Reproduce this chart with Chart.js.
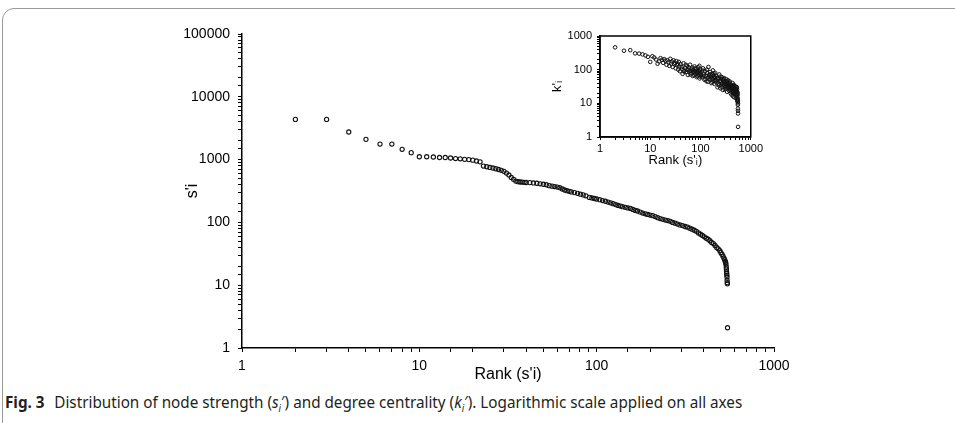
<!DOCTYPE html>
<html>
<head>
<meta charset="utf-8">
<script src="https://cdn.jsdelivr.net/npm/chart.js@4/dist/chart.umd.min.js"></script>
<style>
  body { margin: 0; background: #fff; width: 955px; height: 423px; overflow: hidden; position: relative; }
  #frame { position: absolute; left: 2px; top: 8px; width: 1000px; height: 500px; border: 1px solid #9a9a9a; border-radius: 12px 0 0 0; }
  #main { position: absolute; left: 140px; top: 14px; }
  #inset { position: absolute; left: 540px; top: 24px; }
  #caption { position: absolute; left: 5px; top: 391px; font: 16px "Liberation Sans Narrow", "Noto Sans", sans-serif; color: #231f20; white-space: nowrap; transform-origin: 0 0; }
  #caption b { font-weight: bold; margin-right: 6px; }
</style>
</head>
<body>
<div id="frame"></div>
<canvas id="main" width="660" height="376"></canvas>
<canvas id="inset" width="225" height="145"></canvas>
<div id="caption"><b>Fig. 3</b> Distribution of node strength (<i>s<sub style="font-size:10px">i</sub></i>′) and degree centrality (<i>k<sub style="font-size:10px">i</sub></i>′). Logarithmic scale applied on all axes</div>
<script>
// main plot: node strength by rank
var rankS = [2, 3, 4, 5, 6, 7, 8, 9, 10, 11, 12, 13, 14, 15, 16, 17, 18, 19, 20, 21, 22, 23, 24, 25, 26, 27, 28, 29, 30, 31, 32, 33, 34, 35, 36, 37, 38, 39, 40,
    42, 44, 46, 48, 50, 52, 54, 56, 58, 60, 62, 64, 66, 68, 70, 72, 75, 78, 81, 84, 87, 91, 94, 97, 100,
    104, 108, 112, 116, 120, 124, 128, 132, 136, 140, 145, 150, 155, 160, 165, 170, 176, 182, 188, 194, 200,
    207, 214, 221, 228, 236, 244, 252, 260, 268, 277, 286, 295, 305, 315, 325, 335, 345, 355, 365, 375, 385, 395,
    405, 415, 425, 435, 445, 455, 465, 475, 485, 495, 502, 509, 516, 522, 527, 531, 534, 536, 538, 539, 540, 541, 542, 543, 544, 545, 546, 547];
var strength = [4370, 4370, 2750, 2100, 1770, 1770, 1460, 1290, 1110, 1110, 1100, 1080, 1080, 1060, 1040, 1030, 1010, 1000, 980, 950, 920, 790, 770, 750, 735, 715, 695, 675, 650, 610, 570, 520, 485, 455, 445, 440, 438, 435, 432,
    430, 425, 420, 412, 405, 398, 385, 378, 372, 365, 357, 340, 328, 320, 312, 306, 298, 290, 281, 274, 265, 250, 245, 240, 236,
    230, 223, 217, 211, 205, 199, 192, 186, 182, 178, 174, 170, 167, 161, 155, 152, 146, 141, 137, 134, 131,
    128, 124, 119, 115, 112, 109, 107, 104, 100, 97, 94, 91, 89, 86, 84, 81, 78, 75, 72, 68, 65, 62,
    59, 56, 54, 51, 48, 46, 43, 40, 38, 35.5, 33, 31, 29, 27, 25.5, 24, 23, 21.5, 19.5, 18, 16.5, 15.5, 14.5, 13.5, 12, 11, 10.5, 2.1];

// inset: degree centrality by strength rank
var rankK = [2, 3, 4, 5, 6, 7, 8, 9, 10, 11, 12, 13, 14, 15, 16, 17, 18, 19, 20,
    21, 22, 23, 24, 25, 26, 27, 28, 29, 30, 31, 32, 33, 34, 35, 36, 37, 38, 39, 40,
    42, 44, 46, 48, 50, 52, 54, 56, 58, 60, 62, 64, 66, 68, 70, 72, 74, 76, 78, 80, 82, 84, 86, 88, 90, 92, 94, 96, 98, 100,
    43, 47, 51, 55, 59, 63, 67, 71, 75, 79, 83, 87, 91, 95, 99,
    104, 108, 112, 116, 120, 124, 128, 132, 136, 140, 144, 148, 152, 156, 160, 164, 168, 172, 176, 180, 184, 188, 192, 196, 200,
    102, 110, 118, 126, 134, 142, 150, 158, 166, 174, 182, 190, 198,
    206, 212, 218, 224, 230, 236, 242, 248, 254, 260, 266, 272, 278, 284, 290, 296, 302, 308, 314, 320, 326, 332, 338, 344, 350, 356, 362, 368, 374, 380, 386, 392, 398,
    209, 221, 233, 245, 257, 269, 281, 293, 305, 317, 329, 341, 353, 365, 377, 389,
    404, 410, 416, 422, 428, 434, 440, 446, 452, 458, 464, 470, 476, 482, 488, 494, 500, 506, 512, 518, 524, 530, 536, 540, 544, 548, 550, 552, 553, 554, 555, 556, 557, 558, 559,
    407, 419, 431, 443, 455, 467, 479, 491, 503, 515, 527, 533, 539, 545];
var degree = [460, 365, 380, 305, 300, 285, 265, 240, 170, 250, 230, 200, 150, 175, 220, 195, 160, 205, 185,
    140, 190, 165, 130, 210, 150, 175, 120, 190, 145, 160, 110, 180, 135, 150, 100, 170, 125, 90, 145,
    120, 75, 155, 95, 110, 85, 130, 70, 100, 88, 140, 92, 78, 115, 65, 98, 82, 125, 90, 72, 105, 60, 95, 80, 118, 70, 88, 55, 100, 76,
    105, 88, 140, 98, 115, 72, 102, 88, 68, 110, 85, 65, 92, 130, 62,
    85, 60, 110, 72, 50, 90, 66, 45, 80, 58, 120, 70, 52, 85, 62, 40, 75, 55, 95, 48, 68, 38, 60, 80, 50,
    70, 95, 64, 52, 100, 44, 62, 72, 54, 42, 78, 58, 45,
    65, 42, 30, 55, 38, 72, 46, 28, 52, 36, 60, 40, 25, 48, 34, 56, 38, 26, 45, 32, 52, 36, 22, 42, 30, 48, 33, 24, 40, 28, 44, 31, 20,
    48, 58, 34, 62, 44, 30, 54, 42, 30, 38, 28, 46, 37, 29, 35, 26,
    36, 26, 18, 32, 24, 40, 22, 16, 30, 20, 35, 25, 15, 28, 21, 32, 18, 26, 14, 24, 19, 30, 16, 22, 13, 18, 11, 14, 9, 12, 7, 10, 6, 5, 2,
    30, 22, 28, 34, 24, 19, 32, 26, 22, 30, 22, 26, 12, 20];

var mainPoints = rankS.map(function (r, i) { return { x: r, y: strength[i] }; });
var insetPoints = rankK.map(function (r, i) { return { x: r, y: degree[i] }; });

function decadeLabel(v) {
    var l = Math.log10(v);
    return Math.abs(l - Math.round(l)) < 1e-9 ? String(Math.round(v)) : '';
}

var boxPlugin = {
    id: 'box',
    afterDraw: function (chart) {
        var a = chart.chartArea, ctx = chart.ctx;
        ctx.save();
        ctx.strokeStyle = '#000';
        ctx.lineWidth = 1.5;
        ctx.strokeRect(a.left, a.top, a.right - a.left, a.bottom - a.top);
        ctx.restore();
    }
};

function logAxis(min, max, size, fontSize, titleSize, title, tickPad, titlePad, fitSize, vertical) {
    return {
        type: 'logarithmic',
        min: min,
        max: max,
        afterFit: function (s) { if (vertical) s.width = fitSize; else s.height = fitSize; },
        border: { color: '#000', width: 1.5 },
        grid: { drawOnChartArea: false, drawTicks: true, tickLength: size, tickColor: '#000', tickWidth: 1 },
        ticks: {
            autoSkip: false, maxRotation: 0, padding: tickPad,
            color: '#000', font: { family: 'Liberation Sans, Arial, sans-serif', size: fontSize },
            callback: decadeLabel
        },
        title: {
            display: true, text: title, color: '#000',
            font: { family: 'Liberation Sans, Arial, DejaVu Sans, sans-serif', size: titleSize },
            padding: titlePad
        }
    };
}

var mainLayout = {
    type: 'scatter',
    data: {
        datasets: [{
            data: mainPoints,
            pointRadius: 2.1,
            borderWidth: 1.1,
            borderColor: '#111',
            backgroundColor: 'rgba(255,255,255,0)'
        }]
    },
    options: {
        responsive: false,
        animation: false,
        layout: { padding: { top: 20, right: 26, left: 0, bottom: 0 } },
        plugins: { legend: { display: false }, tooltip: { enabled: false } },
        scales: {
            x: logAxis(1, 1000, 4, 14, 16, "Rank (s'i)", 6, { top: 0, bottom: 6 }, 42, false),
            y: logAxis(1, 100000, 4, 14, 16, "s'i", 8, { top: 43, bottom: 0 }, 102, true)
        }
    }
};

var insetLayout = {
    type: 'scatter',
    data: {
        datasets: [{
            data: insetPoints,
            pointRadius: 1.8,
            borderWidth: 1,
            borderColor: '#111',
            backgroundColor: 'rgba(255,255,255,0)'
        }]
    },
    options: {
        responsive: false,
        animation: false,
        layout: { padding: { top: 12, right: 13, left: 0, bottom: 0 } },
        plugins: { legend: { display: false }, tooltip: { enabled: false } },
        scales: {
            x: logAxis(1, 1000, 3, 11, 13, "Rank (s'ᵢ)", 2, { top: 0, bottom: 1 }, 32, false),
            y: logAxis(1, 1000, 3, 11, 13, "k'ᵢ", 5, { top: 10, bottom: 0 }, 60, true)
        }
    },
    plugins: [boxPlugin]
};

new Chart(document.getElementById('main'), mainLayout);
new Chart(document.getElementById('inset'), insetLayout);

// squeeze caption to the width of the printed line
var cap = document.getElementById('caption');
cap.style.transform = 'scaleX(' + (737 / cap.offsetWidth) + ')';
</script>
</body>
</html>
